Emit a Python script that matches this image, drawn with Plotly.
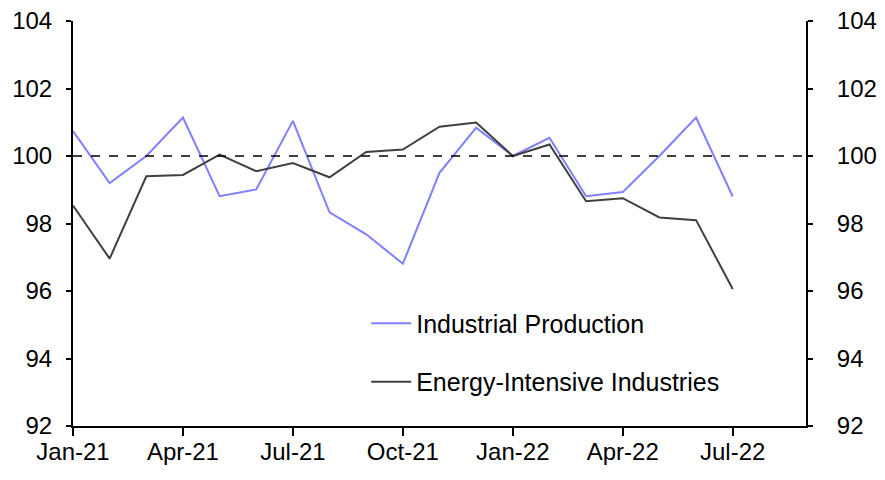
import plotly.graph_objects as go

# month axis runs Jan-21 .. Sep-22 (data ends Jul-22)
months = ["Jan-21", "Feb-21", "Mar-21", "Apr-21", "May-21", "Jun-21", "Jul-21",
          "Aug-21", "Sep-21", "Oct-21", "Nov-21", "Dec-21", "Jan-22", "Feb-22",
          "Mar-22", "Apr-22", "May-22", "Jun-22", "Jul-22", "Aug-22", "Sep-22"]
data_months = months[:19]
tick_labels = ["Jan-21", "Apr-21", "Jul-21", "Oct-21", "Jan-22", "Apr-22", "Jul-22"]

industrial_production = [100.74, 99.20, 100.0, 101.14, 98.81, 99.01, 101.04, 98.33,
                         97.68, 96.81, 99.50, 100.84, 100.0, 100.54, 98.81, 98.93,
                         100.0, 101.14, 98.80]
energy_intensive = [98.53, 96.96, 99.40, 99.44, 100.04, 99.55, 99.79, 99.37, 100.12,
                    100.19, 100.87, 100.99, 100.0, 100.34, 98.66, 98.75, 98.18,
                    98.10, 96.06]

y_ticks = [92, 94, 96, 98, 100, 102, 104]

fig = go.Figure()
fig.add_trace(go.Scatter(
    x=data_months, y=industrial_production, name="Industrial Production",
    mode="lines", line=dict(color="#7f7fff", width=2), legendgroup="ip"
))
fig.add_trace(go.Scatter(
    x=data_months, y=energy_intensive, name="Energy-Intensive Industries",
    mode="lines", line=dict(color="#404040", width=2), legendgroup="ei"
))
# invisible trace so the right-hand axis is drawn
fig.add_trace(go.Scatter(
    x=data_months, y=energy_intensive, yaxis="y2", mode="lines",
    line=dict(color="rgba(0,0,0,0)"), showlegend=False, hoverinfo="skip"
))

fig.add_hline(y=100, line=dict(color="black", width=1.5, dash="dash"))

axis_font = dict(family="Liberation Sans, Arial", size=24, color="black")
legend_font = dict(family="Liberation Sans, Arial", size=25, color="black")
axis_common = dict(
    showline=True, linecolor="black", linewidth=2,
    ticks="outside", tickcolor="black", tickwidth=2,
    showgrid=False, zeroline=False, tickfont=axis_font, automargin=False,
    ticklabeloverflow="allow",
)
# page body adds ~8px offset, so the figure is a bit smaller than the window
fig.update_layout(
    width=877, height=472,
    margin=dict(l=65, r=79, t=13, b=54),
    paper_bgcolor="white", plot_bgcolor="white",
    font=axis_font,
    xaxis=dict(
        type="category", categoryorder="array", categoryarray=months,
        range=[0, 20], tickmode="array", tickvals=tick_labels, ticktext=tick_labels,
        ticklen=8, ticklabelstandoff=-5, **axis_common,
    ),
    yaxis=dict(range=[92, 104], tickvals=y_ticks, ticklen=5,
               ticklabelstandoff=9, **axis_common),
    yaxis2=dict(range=[92, 104], tickvals=y_ticks, ticklen=5, ticklabelstandoff=19,
                overlaying="y", side="right", **axis_common),
    legend=dict(
        x=0.40, y=0.31, xanchor="left", yanchor="top",
        bgcolor="rgba(0,0,0,0)", font=legend_font,
        traceorder="grouped", tracegroupgap=23, itemwidth=40,
    ),
)

fig.write_html("out.html")
